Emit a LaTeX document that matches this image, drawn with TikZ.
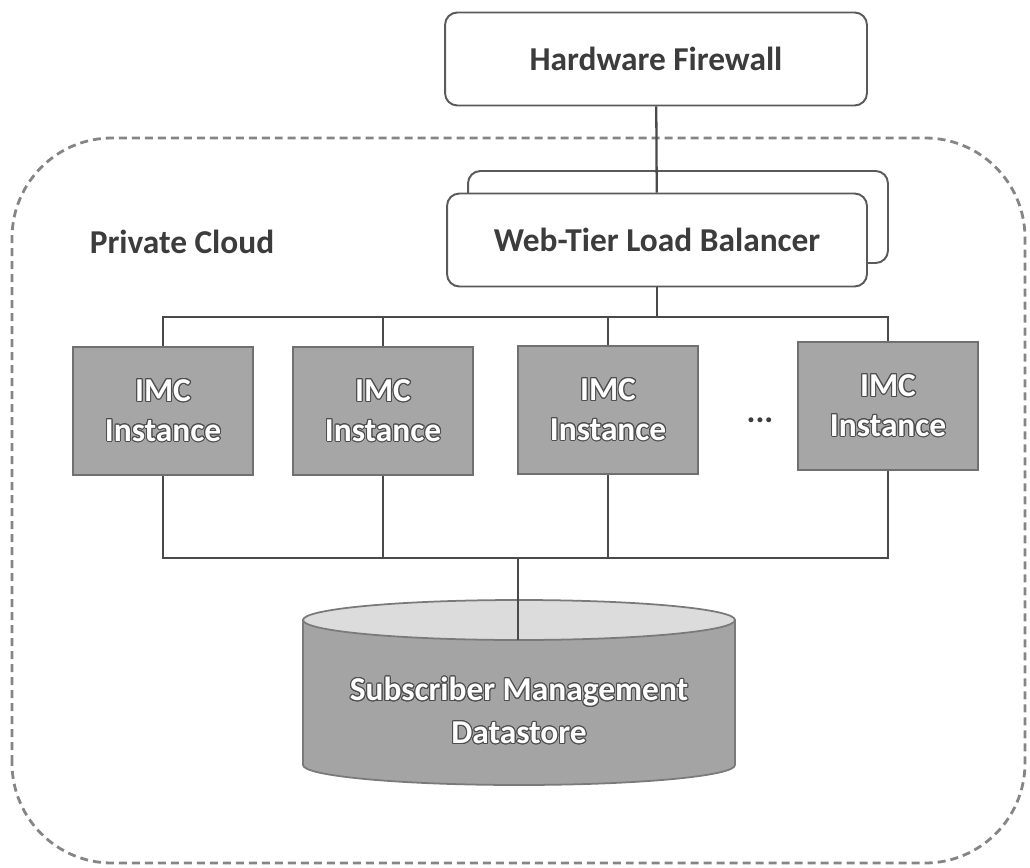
\documentclass[tikz,border=0pt]{standalone}
\usepackage{fontspec}
\setmainfont{Carlito}
\usepackage[copies]{contour}
\contourlength{0.6pt}
\definecolor{ink}{HTML}{3C3C3C}
\definecolor{boxline}{HTML}{5A5A5A}
\definecolor{wirecol}{HTML}{4A4A4A}
\definecolor{imcfill}{HTML}{A6A6A6}
\definecolor{imcline}{HTML}{707070}
\definecolor{dbfill}{HTML}{A4A4A4}
\definecolor{dbtop}{HTML}{DCDCDC}
\definecolor{dbline}{HTML}{7A7A7A}
\definecolor{cloudline}{HTML}{858585}
\newcommand{\halo}[1]{\contour{imcline!70!black}{#1}}

\begin{document}
\begin{tikzpicture}[x=0.02cm,y=0.02cm,
  lbl/.style={font=\fontsize{19}{23}\selectfont\bfseries,text=ink},
  box/.style={lbl,rectangle,rounded corners=7pt,draw=boxline,line width=1.1pt,fill=white,minimum width=8.4cm,minimum height=1.86cm},
  imc/.style={rectangle,draw=imcline,line width=1pt,fill=imcfill,minimum width=3.6cm,minimum height=2.56cm,align=center,text=white,font=\fontsize{19}{22.7}\selectfont\bfseries},
  wire/.style={draw=wirecol,line width=1.3pt}]
\useasboundingbox (0,0) rectangle (1030,867);
\draw[cloudline,line width=1.6pt,dash pattern=on 0.16cm off 0.1cm,rounded corners=2cm] (12,4) rectangle (1025,729);

\path (656,808) node[box,minimum width=8.44cm] (fw) {Hardware Firewall};
\path (678,650) node[box,minimum height=1.84cm] (lbb) {};
\path (657,627) node[box] (lb) {Web-Tier Load Balancer};
\draw[wire] (fw) -- (lb);
\path (182,625) node[lbl] (pc) {Private Cloud};

\path (163,456) node[imc] (i1) {\halo{IMC}\\\halo{Instance}};
\path (383,456) node[imc] (i2) {\halo{IMC}\\\halo{Instance}};
\path (608,457) node[imc] (i3) {\halo{IMC}\\\halo{Instance}};
\path (888,461) node[imc] (i4) {\halo{IMC}\\\halo{Instance}};
\path (760,447) node[lbl] (dots) {...};

\coordinate (bus) at (657,550);
\coordinate (bbus) at (518,309);
\draw[wire] (lb) -- (bus);
\foreach \n in {i1,i2,i3,i4} {
  \draw[wire] (\n) |- (bus);
  \draw[wire] (\n) |- (bbus);
}

\path[fill=dbfill,draw=dbline,line width=1pt] (303,247) -- (303,102) arc[start angle=180,end angle=360,x radius=216,y radius=20] -- (735,247) -- cycle;
\path[fill=dbtop,draw=dbline,line width=1pt] (519,247) ellipse[x radius=216,y radius=20];
\coordinate (dbin) at (518,227);
\draw[wire] (bbus) -- (dbin);
\path (519,156) node[align=center,text=white,font=\fontsize{19}{24.4}\selectfont\bfseries] (db) {\halo{Subscriber Management}\\\halo{Datastore}};
\end{tikzpicture}
\end{document}
